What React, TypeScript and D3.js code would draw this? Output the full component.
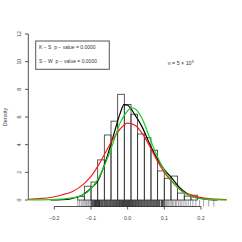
import React from "react";
import * as d3 from "d3";

// histogram of the sample (density scale)
const breaks = [-0.1362, -0.1181, -0.0999, -0.0817, -0.0636, -0.0454, -0.0272, -0.0091, 0.0091, 0.0272,
  0.0454, 0.0636, 0.0817, 0.0999, 0.1181, 0.1362, 0.1544, 0.1726, 0.1907];
const density = [0.24, 1.0, 1.3, 2.9, 4.7, 5.7, 7.64, 6.9, 6.2, 4.77, 4.5, 3.6, 2.1, 1.57, 1.73, 0.5, 0.28, 0.35];

// curves: [x, density]
const kdeCurve: [number, number][] = [
  [-0.21, 0.0], [-0.18, 0.02], [-0.15, 0.12], [-0.13, 0.28], [-0.12, 0.42], [-0.1, 0.85], [-0.08, 1.45],
  [-0.06, 2.8], [-0.04, 4.55], [-0.02, 6.3], [-0.01, 6.9], [0.0, 6.85], [0.02, 6.15], [0.04, 5.25],
  [0.06, 4.05], [0.08, 3.0], [0.1, 2.2], [0.12, 1.6], [0.14, 0.95], [0.16, 0.5], [0.18, 0.22],
  [0.21, 0.07], [0.245, 0.0]];
const redCurve: [number, number][] = [
  [-0.27, 0.05], [-0.24, 0.1], [-0.21, 0.18], [-0.18, 0.36], [-0.15, 0.62], [-0.12, 1.15], [-0.1, 1.7],
  [-0.08, 2.5], [-0.06, 3.45], [-0.04, 4.4], [-0.02, 5.15], [0.0, 5.55], [0.02, 5.4], [0.04, 4.8],
  [0.06, 3.9], [0.08, 2.85], [0.1, 2.0], [0.12, 1.35], [0.15, 0.62], [0.18, 0.3], [0.21, 0.13],
  [0.24, 0.06], [0.27, 0.03]];
const greenCurve: [number, number][] = [
  [-0.27, 0.01], [-0.24, 0.01], [-0.21, 0.02], [-0.18, 0.06], [-0.15, 0.15], [-0.12, 0.38], [-0.1, 0.82],
  [-0.08, 1.55], [-0.06, 2.7], [-0.04, 4.1], [-0.02, 5.6], [0.0, 6.45], [0.01, 6.67], [0.02, 6.6],
  [0.04, 5.85], [0.06, 4.5], [0.08, 3.2], [0.1, 2.15], [0.12, 1.4], [0.15, 0.58], [0.18, 0.2],
  [0.21, 0.06], [0.24, 0.02], [0.27, 0.0]];

// rug of observations
const rug = [-0.136, -0.131, -0.1265, -0.122, -0.119, -0.1155, -0.112, -0.1085, -0.106, -0.1025, -0.0995,
  -0.097, -0.0945, -0.092, -0.0898, -0.0875, -0.0852, -0.083, -0.081, -0.079, -0.077,
  -0.075, -0.072, -0.0695, -0.067, -0.064, -0.0615, -0.059, -0.0565, -0.054, -0.051, -0.0485, -0.046,
  -0.0432, -0.0405, -0.038, -0.0352, -0.0325, -0.03, -0.0272, -0.0245, -0.022, -0.0192, -0.0165, -0.014,
  -0.0112, -0.0085, -0.006, -0.0032, -0.0005, 0.0022, 0.005, 0.0075, 0.0102, 0.013, 0.0155, 0.0182,
  0.021, 0.0235, 0.0262, 0.029, 0.0315, 0.0342, 0.037, 0.0395, 0.0422, 0.045, 0.0475, 0.0502, 0.053,
  0.0555, 0.0582, 0.061, 0.0635, 0.0662, 0.069, 0.0715, 0.0742, 0.077, 0.0795, 0.0822, 0.085, 0.0875,
  0.092, 0.0945, 0.097, 0.1, 0.1035, 0.106, 0.109, 0.112, 0.1155, 0.119, 0.1225, 0.126, 0.1305, 0.134,
  0.139, 0.1435, 0.148, 0.1535, 0.159, 0.165, 0.171, 0.178, 0.186, 0.196, 0.207, 0.221, 0.235];

const xTicks = [-0.2, -0.1, 0.0, 0.1, 0.2];
const yTicks = [0, 2, 4, 6, 8, 10, 12];
const legendLines = ["K \u2212 S  p \u2212 value = 0.0000", "S \u2212 W  p \u2212 value = 0.0000"];

const font = "'Liberation Sans', Arial, sans-serif";
const axisCol = "#555";

export default function App() {
  const x = d3.scaleLinear().domain([-0.2, 0.2]).range([54.3, 201]);
  const y = d3.scaleLinear().domain([0, 12]).range([200, 34]);
  const line = d3.line<[number, number]>()
    .x(d => x(d[0]))
    .y(d => y(d[1]))
    .curve(d3.curveMonotoneX);

  return (
    <svg width={242} height={242} style={{ position: "absolute", left: 0, top: 0, background: "#fff" }}
      fontFamily={font}>
      {/* y axis */}
      <line x1={28.3} x2={28.3} y1={y(0)} y2={y(12)} stroke={axisCol} strokeWidth={1} />
      {yTicks.map(t => (
        <g key={t}>
          <line x1={25} x2={28.3} y1={y(t)} y2={y(t)} stroke={axisCol} strokeWidth={1} />
          <text transform={`translate(20.5,${y(t)}) rotate(-90)`} textAnchor="middle" fontSize={5.3}
            fill="#444">{t}</text>
        </g>
      ))}
      <text transform="translate(7,117) rotate(-90)" textAnchor="middle" fontSize={5.5} fill="#444">Density</text>

      {/* x axis */}
      <line x1={x(-0.2)} x2={x(0.2)} y1={206.5} y2={206.5} stroke={axisCol} strokeWidth={1} />
      {xTicks.map(t => (
        <g key={t}>
          <line x1={x(t)} x2={x(t)} y1={206.5} y2={209.5} stroke={axisCol} strokeWidth={1} />
          <text x={x(t)} y={219.5} textAnchor="middle" fontSize={5.3} fill="#444">
            {t === 0 ? "0.0" : d3.format(".1f")(t).replace("-", "\u2212")}
          </text>
        </g>
      ))}

      {/* rug */}
      {rug.map((v, i) => (
        <line key={i} x1={x(v)} x2={x(v)} y1={200} y2={206.5} stroke="#000" strokeWidth={0.9}
          strokeOpacity={Math.abs(v) > 0.1 ? 0.4 : 0.85} />
      ))}

      {/* histogram */}
      {density.map((d, i) => (
        <rect key={i} x={x(breaks[i])} y={y(d)} width={x(breaks[i + 1]) - x(breaks[i])} height={y(0) - y(d)}
          fill="none" stroke="#333" strokeWidth={0.8} />
      ))}

      {/* density curves */}
      <path d={line(kdeCurve) || ""} fill="none" stroke="#000" strokeWidth={1.2} />
      <path d={line(redCurve) || ""} fill="none" stroke="#ff1a1a" strokeWidth={1.2} />
      <path d={line(greenCurve) || ""} fill="none" stroke="#1ed01e" strokeWidth={1.2} />

      {/* legend */}
      <rect x={35.7} y={41} width={73.6} height={28.3} fill="#fff" stroke={axisCol} strokeWidth={1} />
      {legendLines.map((s, i) => (
        <text key={i} x={39} y={49.2 + i * 13.7} fontSize={5} fill="#333" xmlSpace="preserve">{s}</text>
      ))}

      <text x={167.7} y={65} fontSize={5.3} fill="#333">
        n = 5 × 10<tspan dy={-2.2} fontSize={4}>3</tspan>
      </text>
    </svg>
  );
}
